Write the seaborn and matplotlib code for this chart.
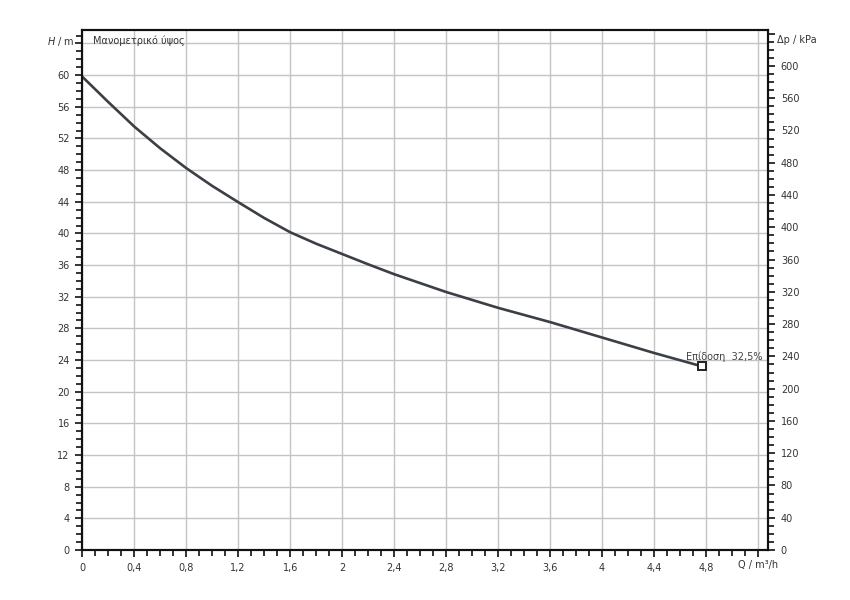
import numpy as np
import pandas as pd
import matplotlib.pyplot as plt
import seaborn as sns
from matplotlib.ticker import MultipleLocator, FuncFormatter

# pump curve
flow = [0.0, 0.2, 0.4, 0.6, 0.8, 1.0, 1.2, 1.4, 1.6, 1.8, 2.0, 2.2, 2.4,
        2.8, 3.2, 3.6, 4.0, 4.4, 4.77]
head = [59.8, 56.6, 53.5, 50.75, 48.25, 46.0, 43.95, 41.95, 40.15, 38.7, 37.4, 36.1, 34.85,
        32.6, 30.6, 28.8, 26.85, 24.9, 23.2]
duty_q = 4.77
duty_h = 23.2
duty_label = "Επίδοση  32,5%"
curve_title = "Μανομετρικό ύψος"

KPA_PER_M = 9.81
X_MAX = 5.28
Y_MAX = 65.7

sns.set_theme(style="white")
plt.rcParams['font.family'] = ['DejaVu Sans']

df = pd.DataFrame({"Q": flow, "H": head})

fig = plt.figure(figsize=(8.5, 6), dpi=100)
ax = fig.add_axes([0.0968, 0.0833, 0.8071, 0.8667])

sns.lineplot(data=df, x="Q", y="H", ax=ax, color="#3b3f46", linewidth=1.9)
ax.plot([duty_q], [duty_h], marker="s", markersize=5.5, markerfacecolor="white",
        markeredgecolor="#222222", markeredgewidth=1.4, linestyle="none", zorder=5)
ax.text(duty_q - 0.12, duty_h + 0.5, duty_label, fontsize=7, color="#444444",
        ha="left", va="bottom")

ax.set_xlim(0, X_MAX)
ax.set_ylim(0, Y_MAX)
ax.xaxis.set_major_locator(MultipleLocator(0.4))
ax.xaxis.set_minor_locator(MultipleLocator(0.1))
ax.yaxis.set_major_locator(MultipleLocator(4))
ax.yaxis.set_minor_locator(MultipleLocator(1))


def x_fmt(v, pos):
    if v > 5.0:
        return ""
    s = f"{v:.1f}".replace(".", ",")
    if s.endswith(",0"):
        s = s[:-2]
    return s


def y_fmt(v, pos):
    if v > 62:
        return ""
    return f"{v:.0f}"


ax.xaxis.set_major_formatter(FuncFormatter(x_fmt))
ax.yaxis.set_major_formatter(FuncFormatter(y_fmt))
ax.grid(True, which="major", color="#c4c4c4", linewidth=1.0)
ax.set_xlabel("")
ax.set_ylabel("")
ax.tick_params(which="both", direction="out", colors="#111111", labelsize=7,
               labelcolor="#333333", width=1.2)
ax.tick_params(which="major", length=5, pad=4)
ax.tick_params(which="minor", length=4)
ax.tick_params(axis="x", which="both", bottom=True)
ax.tick_params(axis="y", which="both", left=True)
for sp in ax.spines.values():
    sp.set_color("#111111")
    sp.set_linewidth(1.5)

# pressure axis on the right
ax2 = ax.twinx()
ax2.set_ylim(0, Y_MAX * KPA_PER_M)
ax2.yaxis.set_major_locator(MultipleLocator(40))
ax2.yaxis.set_minor_locator(MultipleLocator(10))
ax2.yaxis.set_major_formatter(FuncFormatter(lambda v, p: "" if v > 610 else f"{v:.0f}"))
ax2.tick_params(which="both", direction="out", right=True, colors="#111111",
                labelsize=7, labelcolor="#333333", width=1.2)
ax2.tick_params(which="major", length=5, pad=4)
ax2.tick_params(which="minor", length=4)
ax2.grid(False)
for sp in ax2.spines.values():
    sp.set_color("#111111")
    sp.set_linewidth(1.5)

# axis titles sit where the last tick labels would be
ax.text(-0.012, 64.2, r"$\it{H}$ / m", transform=ax.get_yaxis_transform(), ha="right",
        va="center", fontsize=7, color="#333333")
ax2.text(1.012, 632, "Δp / kPa", transform=ax2.get_yaxis_transform(), ha="left",
         va="center", fontsize=7, color="#333333")
ax.text(5.2, -0.02, "Q / m³/h", transform=ax.get_xaxis_transform(), ha="center",
        va="top", fontsize=7, color="#333333")
ax.text(0.08, 64.3, curve_title, fontsize=7, color="#333333", va="center")

fig.savefig("out.png", dpi=100)
